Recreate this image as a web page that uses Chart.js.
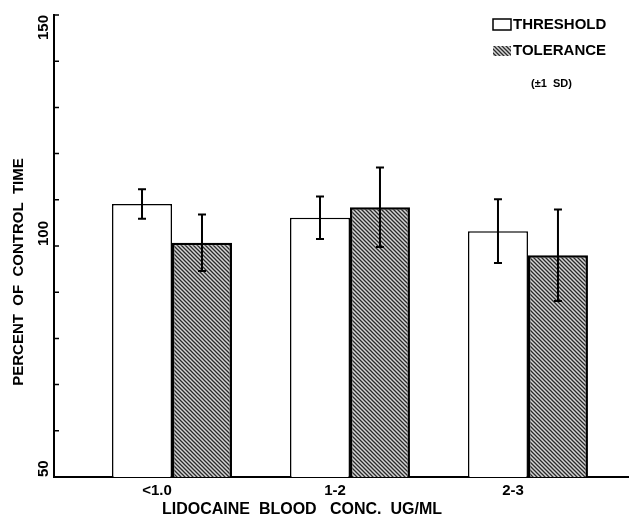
<!DOCTYPE html>
<html>
<head>
<meta charset="utf-8">
<script src="https://cdn.jsdelivr.net/npm/chart.js@4/dist/chart.umd.min.js"></script>
<style>
  html, body { margin: 0; padding: 0; background: #fff; }
  canvas { display: block; }
</style>
</head>
<body>
<canvas id="chart" width="633" height="529"></canvas>
<script>
// ==================== Data ====================
const categories = ['<1.0', '1-2', '2-3'];
const categoryPos = [0, 1, 2];
const thresholdMeans = [109.1, 106.1, 103.2];
const thresholdSD = [3.2, 4.6, 6.9];
const toleranceMeans = [100.7, 108.4, 98.0];
const toleranceSD = [6.1, 8.6, 9.9];
const yLabelValues = [50, 100, 150];

const FONT = '"Liberation Sans", Arial, sans-serif';

/**
 * Dense diagonal hatch used for the tolerance bars
 */
function makeHatch(ctx) {
  const c = document.createElement('canvas');
  c.width = 4;
  c.height = 4;
  const g = c.getContext('2d');
  g.fillStyle = '#d4d4d4';
  g.fillRect(0, 0, 4, 4);
  g.strokeStyle = '#2a2a2a';
  g.lineWidth = 1.3;
  g.beginPath();
  g.moveTo(-1, -1); g.lineTo(5, 5);
  g.moveTo(-1, 3); g.lineTo(1, 5);
  g.moveTo(3, -1); g.lineTo(5, 1);
  g.stroke();
  return ctx.createPattern(c, 'repeat');
}

const ctx = document.getElementById('chart').getContext('2d');
const hatch = makeHatch(ctx);

// error bars (±1 SD) on top of each bar
const errorBars = {
  id: 'errorBars',
  afterDatasetsDraw(chart) {
    const g = chart.ctx;
    const y = chart.scales.y;
    const sds = [thresholdSD, toleranceSD];
    chart.data.datasets.forEach((ds, di) => {
      chart.getDatasetMeta(di).data.forEach((bar, i) => {
        const mean = ds.data[i].y;
        const top = y.getPixelForValue(mean + sds[di][i]);
        const bot = y.getPixelForValue(mean - sds[di][i]);
        g.save();
        g.strokeStyle = '#000';
        g.lineWidth = 2;
        g.beginPath();
        g.moveTo(bar.x, top); g.lineTo(bar.x, bot);
        g.moveTo(bar.x - 4, top); g.lineTo(bar.x + 4, top);
        g.moveTo(bar.x - 4, bot); g.lineTo(bar.x + 4, bot);
        g.stroke();
        g.restore();
      });
    });
  }
};

// inward tick marks, rotated y labels, axis titles and the legend block
const decorations = {
  id: 'decorations',
  afterDraw(chart) {
    const g = chart.ctx;
    const y = chart.scales.y;
    const area = chart.chartArea;
    g.save();
    g.strokeStyle = '#000';
    g.lineWidth = 1.5;
    g.beginPath();
    for (let v = y.min; v <= y.max; v += 10) {
      const py = y.getPixelForValue(v);
      g.moveTo(area.left, py);
      g.lineTo(area.left + 5, py);
    }
    g.stroke();

    g.fillStyle = '#000';
    g.font = `bold 15px ${FONT}`;
    g.textBaseline = 'middle';

    // y tick labels, rotated; the top one hangs below its tick
    yLabelValues.forEach(v => {
      g.save();
      g.translate(area.left - 10, y.getPixelForValue(v));
      g.rotate(-Math.PI / 2);
      g.textAlign = v === y.max ? 'right' : 'left';
      g.fillText(String(v), 0, 0);
      g.restore();
    });

    // y axis title
    g.save();
    g.translate(19, 272);
    g.rotate(-Math.PI / 2);
    g.textAlign = 'center';
    g.fillText('PERCENT  OF  CONTROL  TIME', 0, 0);
    g.restore();

    // x axis title
    g.textAlign = 'center';
    g.font = `bold 16px ${FONT}`;
    g.fillText('LIDOCAINE  BLOOD   CONC.  UG/ML', 302, 510);

    // legend
    g.lineWidth = 1.5;
    g.fillStyle = '#fff';
    g.fillRect(493, 19, 18, 11);
    g.strokeRect(493, 19, 18, 11);
    g.fillStyle = hatch;
    g.fillRect(493, 46, 18, 10);
    g.fillStyle = '#000';
    g.textAlign = 'left';
    g.font = `bold 15px ${FONT}`;
    g.fillText('THRESHOLD', 513, 25);
    g.fillText('TOLERANCE', 513, 51);
    g.font = `bold 11px ${FONT}`;
    g.fillText('(\u00b11  SD)', 531, 84);
    g.restore();
  }
};

new Chart(ctx, {
  type: 'bar',
  data: {
    datasets: [{
      label: 'THRESHOLD',
      data: categoryPos.map((x, i) => ({ x: x, y: thresholdMeans[i] })),
      backgroundColor: '#fff',
      borderColor: '#000',
      borderWidth: 1.5
    }, {
      label: 'TOLERANCE',
      data: categoryPos.map((x, i) => ({ x: x, y: toleranceMeans[i] })),
      backgroundColor: hatch,
      borderColor: '#000',
      borderWidth: 2.5
    }]
  },
  options: {
    responsive: false,
    animation: false,
    devicePixelRatio: 1,
    categoryPercentage: 0.674,
    barPercentage: 1.0,
    layout: { padding: { top: 15, right: 5, left: 0, bottom: 0 } },
    plugins: {
      legend: { display: false },
      tooltip: { enabled: false }
    },
    scales: {
      x: {
        type: 'linear',
        offset: false,
        min: -0.663,
        max: 2.562,
        afterBuildTicks: scale => {
          scale.ticks = categoryPos.map(v => ({ value: v }));
        },
        afterFit: scale => { scale.height = 52; },
        grid: { display: false, offset: false, drawTicks: false, tickLength: 0 },
        border: { display: true, color: '#000', width: 2 },
        ticks: {
          color: '#000',
          font: { family: FONT, size: 15, weight: 'bold' },
          padding: 5,
          labelOffset: -15,
          maxRotation: 0,
          callback: value => categories[categoryPos.indexOf(value)] || ''
        }
      },
      y: {
        min: 50,
        max: 150,
        afterFit: scale => { scale.width = 54; },
        grid: { display: false, drawTicks: false, tickLength: 0 },
        border: { display: true, color: '#000', width: 2 },
        ticks: { display: false }
      }
    }
  },
  plugins: [errorBars, decorations]
});
</script>
</body>
</html>
